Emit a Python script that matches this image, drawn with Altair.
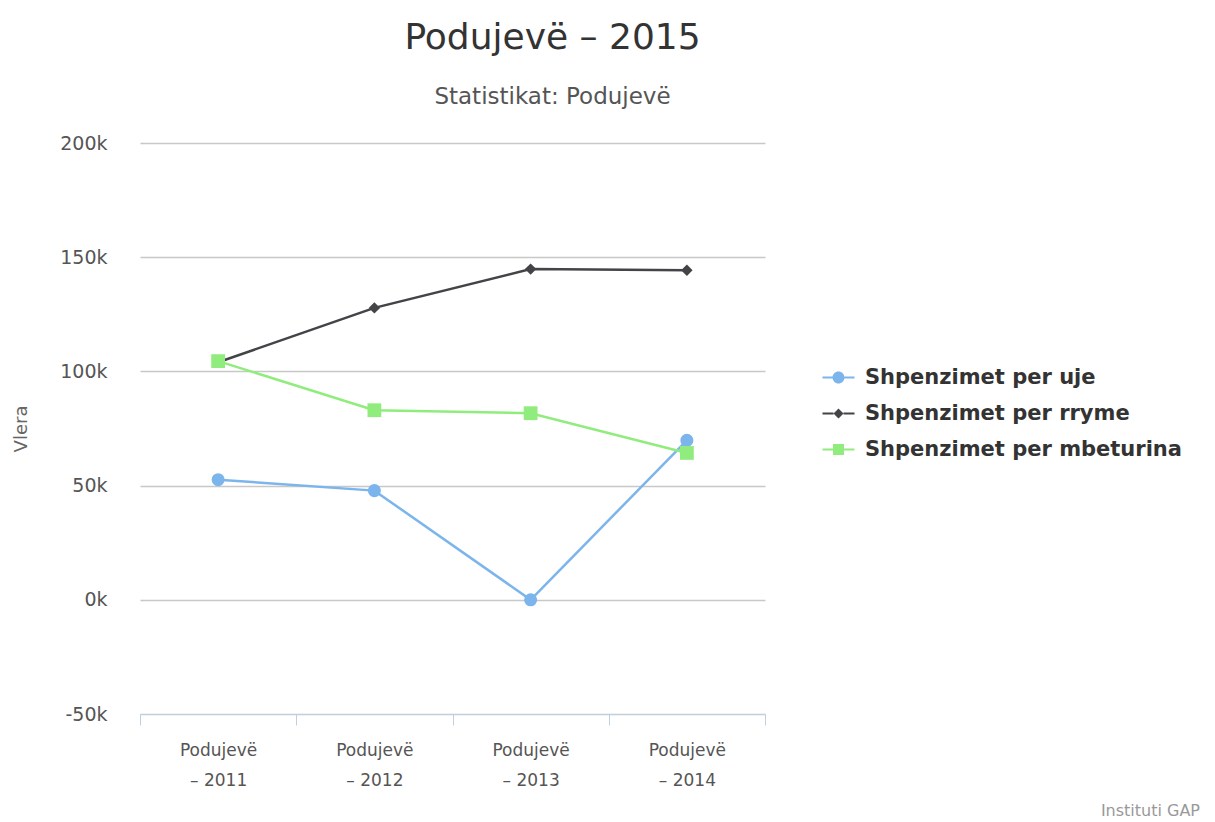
import altair as alt
import pandas as pd

categories = ["Podujevë – 2011", "Podujevë – 2012", "Podujevë – 2013", "Podujevë – 2014"]
series_names = ["Shpenzimet per uje", "Shpenzimet per rryme", "Shpenzimet per mbeturina"]
uje = [52600, 47800, 0, 69800]
rryme = [104000, 127800, 144800, 144300]
mbeturina = [104500, 83000, 81700, 64300]
y_ticks = [-50000, 0, 50000, 100000, 150000, 200000]
colors = ["#7cb5ec", "#434348", "#90ed7d"]
shapes = ["circle", "diamond", "square"]

# legend symbols: line stub with marker in the middle
legend_symbols = [
    "M-1.6,-0.1 L-0.6,-0.1 L-0.6,0.1 L-1.6,0.1 Z M0.6,-0.1 L1.6,-0.1 L1.6,0.1 L0.6,0.1 Z "
    "M0.6,0 A0.6,0.6 0 1,1 -0.6,0 A0.6,0.6 0 1,1 0.6,0 Z",
    "M-1.6,-0.1 L-0.5,-0.1 L-0.5,0.1 L-1.6,0.1 Z M0.5,-0.1 L1.6,-0.1 L1.6,0.1 L0.5,0.1 Z "
    "M0,-0.5 L0.5,0 L0,0.5 L-0.5,0 Z",
    "M-1.6,-0.1 L-0.55,-0.1 L-0.55,0.1 L-1.6,0.1 Z M0.55,-0.1 L1.6,-0.1 L1.6,0.1 L0.55,0.1 Z "
    "M-0.55,-0.55 L0.55,-0.55 L0.55,0.55 L-0.55,0.55 Z",
]

rows = []
for name, vals in zip(series_names, [uje, rryme, mbeturina]):
    for c, v in zip(categories, vals):
        rows.append({"Kategoria": c, "Seria": name, "Vlera": v})
df = pd.DataFrame(rows)

FONT = "DejaVu Sans"

x_enc = alt.X(
    "Kategoria:N",
    sort=categories,
    scale=alt.Scale(type="band", paddingInner=0, paddingOuter=0),
    axis=alt.Axis(
        title=None,
        tickBand="extent",
        labelAngle=0,
        labelExpr="[slice(datum.label, 0, 8), slice(datum.label, 9)]",
        labelFontSize=17,
        labelColor="#555555",
        labelFont=FONT,
        labelPadding=17,
        labelLineHeight=30,
        domainColor="#c0d0e0",
        tickColor="#c0d0e0",
        tickSize=11,
        grid=False,
    ),
)

y_enc = alt.Y(
    "Vlera:Q",
    scale=alt.Scale(domain=[-50000, 200000], nice=False, zero=False),
    axis=alt.Axis(
        title="Vlera",
        values=y_ticks,
        labelExpr="(datum.value / 1000) + 'k'",
        labelFontSize=19,
        labelColor="#555555",
        labelFont=FONT,
        labelPadding=33,
        ticks=False,
        domain=False,
        grid=True,
        gridColor="#c8c8c8",
        gridWidth=1.3,
        titleFont=FONT,
        titleFontSize=18,
        titleFontWeight="normal",
        titleColor="#666666",
        titlePadding=29,
    ),
)

legend = alt.Legend(
    title=None,
    orient="none",
    legendX=688,
    legendY=224,
    labelFont=FONT,
    labelFontSize=21,
    labelFontWeight="bold",
    labelColor="#333333",
    labelLimit=0,
    rowPadding=14,
    symbolSize=400,
    symbolStrokeWidth=0,
    symbolOpacity=1,
    labelOffset=16,
)

color_enc = alt.Color(
    "Seria:N",
    sort=series_names,
    scale=alt.Scale(domain=series_names, range=colors),
    legend=legend,
)

base = alt.Chart(df)
lines = base.mark_line(strokeWidth=2.5).encode(
    x=x_enc, y=y_enc, color=color_enc, detail="Seria:N",
)

legend_layer = base.mark_point(filled=True, opacity=0, size=1).encode(
    x=x_enc, y=y_enc, color=color_enc,
    shape=alt.Shape("Seria:N", sort=series_names,
                    scale=alt.Scale(domain=series_names, range=legend_symbols),
                    legend=legend),
)

point_layers = []
for name, shp, sz in zip(series_names, shapes, [170, 130, 190]):
    point_layers.append(
        base.transform_filter(alt.datum.Seria == name)
        .mark_point(filled=True, opacity=1, size=sz, shape=shp)
        .encode(x=x_enc, y=y_enc, color=color_enc)
    )

credit = alt.Chart(pd.DataFrame({"t": ["Instituti GAP"]})).mark_text(
    align="right", baseline="middle", fontSize=16, color="#999999", font=FONT
).encode(text="t:N", x=alt.value(1060), y=alt.value(668))

chart = alt.layer(lines, *point_layers, legend_layer, credit).properties(
    width=625,
    height=571,
    autosize=alt.AutoSizeParams(type="none"),
    padding={"left": 132, "top": 135, "right": 440, "bottom": 106},
    title=alt.TitleParams(
        text="Podujevë – 2015",
        subtitle="Statistikat: Podujevë",
        anchor="middle",
        dx=100,
        font=FONT,
        fontSize=36,
        fontWeight="normal",
        color="#333333",
        subtitleFont=FONT,
        subtitleFontSize=23,
        subtitleColor="#555555",
        subtitlePadding=29,
        offset=24,
    ),
).configure(background="white").configure_view(stroke=None)

chart.save("out.html", embed_options={"renderer": "svg", "actions": False})
